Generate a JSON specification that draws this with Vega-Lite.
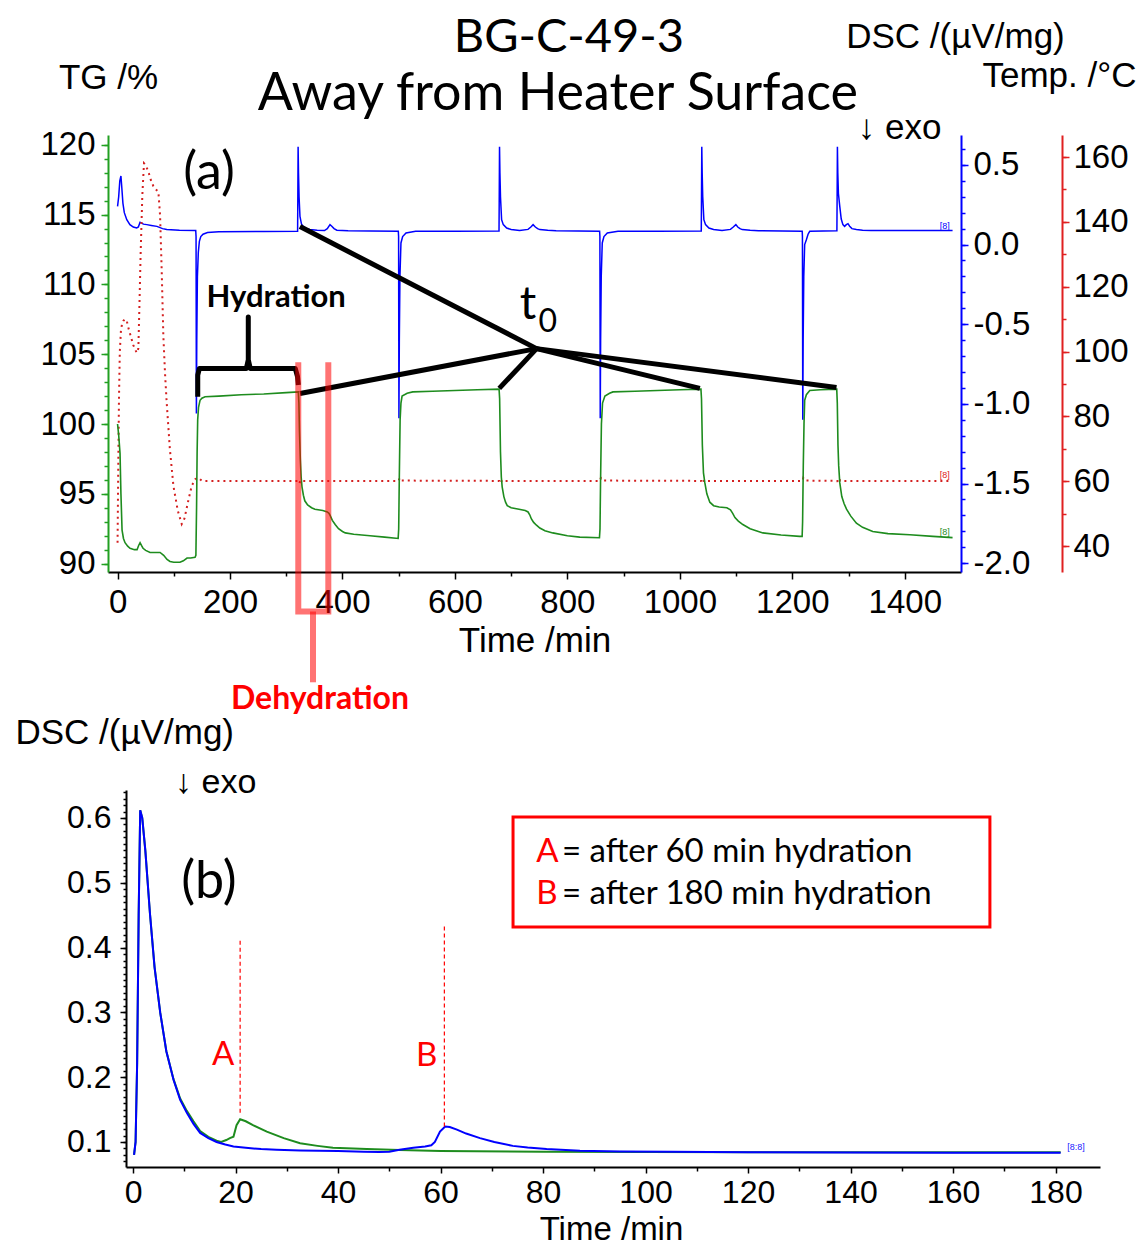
{
"$schema": "https://vega.github.io/schema/vega-lite/v6.json",
"background": "white",
"padding": {"left": 15, "top": 14, "right": 0, "bottom": 0},
"bounds": "flush",
"spacing": 218,
"config": {
  "view": {"stroke": null},
  "axis": {"grid": false, "labelFont": "Liberation Sans", "titleFont": "Liberation Sans", "labelFontSize": 32, "titleFontSize": 34, "labelColor": "#000", "titleColor": "#000", "titleFontWeight": "normal", "labelFlush": false, "labelOverlap": false, "domainWidth": 2, "tickWidth": 1.5}
},
"datasets": {
"tg": [
{"t":0,"v":100.0},{"t":2,"v":99.2},{"t":4.4,"v":97.9},{"t":6,"v":95},{"t":8,"v":92.4},{"t":10.5,"v":91.8},{"t":13.3,"v":91.5},{"t":18,"v":91.25},{"t":22.2,"v":91.1},{"t":30,"v":91.0},{"t":34.7,"v":91.0},{"t":37.5,"v":91.3},{"t":40,"v":91.5},{"t":42.5,"v":91.3},{"t":45.3,"v":91.1},{"t":50,"v":90.95},{"t":57.8,"v":90.8},{"t":66,"v":90.8},{"t":75.6,"v":90.8},{"t":82,"v":90.6},{"t":88,"v":90.3},{"t":93.3,"v":90.15},{"t":100,"v":90.1},{"t":111,"v":90.1},{"t":117,"v":90.2},{"t":123.6,"v":90.4},{"t":130,"v":90.4},{"t":137.8,"v":90.45},{"t":139.3,"v":90.6},{"t":140.5,"v":94},{"t":141.5,"v":98},{"t":142.5,"v":100.3},{"t":144,"v":101.2},{"t":146.7,"v":101.7},{"t":150,"v":101.85},{"t":155.6,"v":101.95},{"t":180,"v":102.0},{"t":220,"v":102.1},{"t":260,"v":102.15},{"t":300,"v":102.25},{"t":321.5,"v":102.3},{"t":322.5,"v":101.5},{"t":323.5,"v":99.5},{"t":325,"v":97.5},{"t":326.5,"v":96.2},{"t":328,"v":95.5},{"t":330.5,"v":94.9},{"t":333,"v":94.5},{"t":338,"v":94.2},{"t":345,"v":94.0},{"t":351,"v":93.9},{"t":365,"v":93.8},{"t":373,"v":93.7},{"t":376,"v":93.6},{"t":378,"v":93.45},{"t":382,"v":93.1},{"t":387,"v":92.8},{"t":393,"v":92.5},{"t":400,"v":92.3},{"t":405,"v":92.2},{"t":420,"v":92.1},{"t":449,"v":92.0},{"t":475,"v":91.9},{"t":499,"v":91.8},
{"t":500,"v":92.5},{"t":501,"v":96},{"t":502.5,"v":100.3},{"t":504,"v":101.5},{"t":506,"v":102.0},{"t":515,"v":102.2},{"t":525,"v":102.3},{"t":560,"v":102.35},{"t":600,"v":102.4},{"t":640,"v":102.45},{"t":678.5,"v":102.5},
{"t":679.5,"v":101.8},{"t":681,"v":98},{"t":682.5,"v":96.2},{"t":684,"v":95.5},{"t":687,"v":94.8},{"t":690,"v":94.4},{"t":693,"v":94.15},{"t":700,"v":94.0},{"t":714,"v":93.9},{"t":725,"v":93.8},{"t":730,"v":93.7},{"t":733,"v":93.5},{"t":736,"v":93.2},{"t":740,"v":92.95},{"t":745,"v":92.75},{"t":751,"v":92.55},{"t":760,"v":92.35},{"t":774,"v":92.2},{"t":800,"v":92.0},{"t":822,"v":91.9},{"t":857,"v":91.85},
{"t":858,"v":92.5},{"t":859,"v":96},{"t":860.5,"v":100},{"t":862.5,"v":101.5},{"t":866.7,"v":102.0},{"t":875,"v":102.2},{"t":881,"v":102.3},{"t":920,"v":102.35},{"t":960,"v":102.4},{"t":1000,"v":102.45},{"t":1037.5,"v":102.5},
{"t":1038.5,"v":101.8},{"t":1040,"v":98.5},{"t":1042,"v":96.5},{"t":1044.4,"v":95.8},{"t":1048,"v":95},{"t":1053.3,"v":94.4},{"t":1060,"v":94.15},{"t":1070,"v":94.05},{"t":1083.6,"v":94.0},{"t":1090,"v":93.85},{"t":1094,"v":93.6},{"t":1098,"v":93.3},{"t":1104,"v":93.05},{"t":1112,"v":92.8},{"t":1125,"v":92.5},{"t":1147.6,"v":92.2},{"t":1180,"v":92.05},{"t":1213,"v":91.95},{"t":1217.5,"v":91.95},
{"t":1218.3,"v":93},{"t":1219.5,"v":97},{"t":1220.8,"v":100},{"t":1222,"v":101.7},{"t":1225,"v":102.1},{"t":1231,"v":102.4},{"t":1250,"v":102.45},{"t":1279,"v":102.5},
{"t":1280,"v":101.5},{"t":1281.2,"v":98.5},{"t":1282.5,"v":97},{"t":1284.4,"v":95.8},{"t":1288,"v":94.8},{"t":1292,"v":94.3},{"t":1296.4,"v":93.9},{"t":1304,"v":93.4},{"t":1314,"v":92.9},{"t":1325,"v":92.6},{"t":1343,"v":92.3},{"t":1370,"v":92.15},{"t":1409,"v":92.07},{"t":1450,"v":91.95},{"t":1485,"v":91.86}
],
"dsc": [
{"t":0,"v":0.24},{"t":2,"v":0.3},{"t":4,"v":0.4},{"t":6,"v":0.43},{"t":7.5,"v":0.36},{"t":9.5,"v":0.26},{"t":12,"v":0.2},{"t":16.4,"v":0.156},{"t":22,"v":0.125},{"t":28,"v":0.11},{"t":34,"v":0.104},{"t":37,"v":0.11},{"t":40,"v":0.14},{"t":43,"v":0.135},{"t":46,"v":0.128},{"t":52,"v":0.125},{"t":60,"v":0.12},{"t":70,"v":0.114},{"t":80,"v":0.1},{"t":87.5,"v":0.094},{"t":110,"v":0.09},{"t":139,"v":0.088},
{"t":139.6,"v":0.05},{"t":140.2,"v":-1.06},{"t":140.9,"v":-0.6},{"t":142,"v":-0.2},{"t":143.6,"v":-0.05},{"t":145.5,"v":0.02},{"t":148,"v":0.05},{"t":152,"v":0.065},{"t":160,"v":0.075},{"t":180,"v":0.08},{"t":260,"v":0.082},{"t":320.2,"v":0.084},
{"t":320.6,"v":0.3},{"t":321.1,"v":0.614},{"t":321.8,"v":0.45},{"t":322.8,"v":0.3},{"t":324.4,"v":0.177},{"t":327,"v":0.13},{"t":330,"v":0.114},{"t":336,"v":0.1},{"t":342,"v":0.094},{"t":355,"v":0.09},{"t":368,"v":0.088},{"t":373,"v":0.1},{"t":377.8,"v":0.125},{"t":381,"v":0.115},{"t":385,"v":0.1},{"t":390,"v":0.09},{"t":410,"v":0.086},{"t":450,"v":0.085},{"t":499.3,"v":0.083},
{"t":499.8,"v":0.05},{"t":500.4,"v":-1.09},{"t":501.1,"v":-0.6},{"t":502.2,"v":-0.2},{"t":504,"v":0.01},{"t":507,"v":0.05},{"t":513,"v":0.073},{"t":530,"v":0.083},{"t":600,"v":0.084},{"t":678.4,"v":0.085},
{"t":678.8,"v":0.3},{"t":679.3,"v":0.614},{"t":680,"v":0.45},{"t":681,"v":0.3},{"t":683,"v":0.156},{"t":686,"v":0.125},{"t":692,"v":0.104},{"t":700,"v":0.094},{"t":715,"v":0.0875},{"t":730,"v":0.095},{"t":735,"v":0.11},{"t":739,"v":0.125},{"t":743,"v":0.11},{"t":747,"v":0.1},{"t":751,"v":0.094},{"t":765,"v":0.089},{"t":780,"v":0.087},{"t":857.3,"v":0.083},
{"t":857.8,"v":0.05},{"t":858.4,"v":-1.09},{"t":859.1,"v":-0.6},{"t":860.2,"v":-0.2},{"t":862,"v":0.01},{"t":865,"v":0.05},{"t":871,"v":0.073},{"t":890,"v":0.083},{"t":960,"v":0.084},{"t":1038.1,"v":0.085},
{"t":1038.5,"v":0.3},{"t":1039,"v":0.614},{"t":1039.7,"v":0.45},{"t":1040.7,"v":0.3},{"t":1042.7,"v":0.156},{"t":1045.7,"v":0.125},{"t":1051.7,"v":0.104},{"t":1060,"v":0.094},{"t":1075,"v":0.0875},{"t":1090,"v":0.095},{"t":1095,"v":0.11},{"t":1099.6,"v":0.125},{"t":1103,"v":0.11},{"t":1107,"v":0.1},{"t":1111,"v":0.094},{"t":1125,"v":0.089},{"t":1140,"v":0.087},{"t":1217.6,"v":0.083},
{"t":1218,"v":0.05},{"t":1218.6,"v":-1.1},{"t":1219.3,"v":-0.6},{"t":1220.4,"v":-0.2},{"t":1222,"v":0.0},{"t":1225,"v":0.03},{"t":1228,"v":0.065},{"t":1231,"v":0.083},{"t":1279.3,"v":0.087},
{"t":1279.7,"v":0.3},{"t":1280.2,"v":0.614},{"t":1280.9,"v":0.45},{"t":1282,"v":0.32},{"t":1284.4,"v":0.24},{"t":1287,"v":0.16},{"t":1290,"v":0.125},{"t":1293,"v":0.114},{"t":1296,"v":0.125},{"t":1299,"v":0.131},{"t":1302,"v":0.115},{"t":1306,"v":0.1},{"t":1314,"v":0.094},{"t":1325,"v":0.09},{"t":1340,"v":0.088},{"t":1400,"v":0.0875},{"t":1485,"v":0.0875}
],
"temp": [
{"t":0,"v":41},{"t":1,"v":60},{"t":2.5,"v":85},{"t":4,"v":100},{"t":6,"v":106.5},{"t":8,"v":108.5},{"t":10.4,"v":109.5},{"t":13.3,"v":110},{"t":16.3,"v":109.5},{"t":19,"v":107.5},{"t":22.2,"v":105.5},{"t":28,"v":102},{"t":34.1,"v":99.6},{"t":37,"v":101},{"t":39,"v":115},{"t":41,"v":130},{"t":44,"v":148},{"t":47,"v":158.1},{"t":50,"v":157.5},{"t":54.8,"v":155.5},{"t":59,"v":153},{"t":63.7,"v":151},{"t":68,"v":150},{"t":72.6,"v":149.3},{"t":75.6,"v":142},{"t":78.5,"v":125},{"t":81.4,"v":105},{"t":84.5,"v":93},{"t":87.4,"v":84.2},{"t":93,"v":70},{"t":99.3,"v":58.6},{"t":107,"v":51},{"t":114.1,"v":46.8},{"t":119,"v":48.5},{"t":125,"v":53.4},{"t":131.9,"v":58.6},{"t":138,"v":60.6},{"t":143.6,"v":61.1},{"t":150,"v":60.1},{"t":321,"v":60.1},{"t":323,"v":59.3},{"t":326,"v":60.4},{"t":330,"v":60.1},{"t":500,"v":60.1},{"t":501.5,"v":61.0},{"t":505,"v":60.2},{"t":679,"v":60.1},{"t":681,"v":59.3},{"t":684,"v":60.4},{"t":688,"v":60.1},{"t":858,"v":60.1},{"t":859.5,"v":61.0},{"t":863,"v":60.2},{"t":1038.5,"v":60.1},{"t":1040.5,"v":59.3},{"t":1043.5,"v":60.4},{"t":1048,"v":60.1},{"t":1218,"v":60.1},{"t":1219.5,"v":61.0},{"t":1223,"v":60.2},{"t":1280,"v":60.1},{"t":1282,"v":59.3},{"t":1285,"v":60.4},{"t":1290,"v":60.1},{"t":1484,"v":60.1}
],
"blk": [
{"s":"a","o":0,"t":745.2,"v":105.4},{"s":"a","o":1,"t":324.4,"v":114.14},
{"s":"b","o":0,"t":745.2,"v":105.4},{"s":"b","o":1,"t":324.4,"v":102.19},
{"s":"c","o":0,"t":745.2,"v":105.4},{"s":"c","o":1,"t":678.8,"v":102.55},
{"s":"d","o":0,"t":745.2,"v":105.4},{"s":"d","o":1,"t":1035.6,"v":102.55},
{"s":"e","o":0,"t":745.2,"v":105.4},{"s":"e","o":1,"t":1278.6,"v":102.62},
{"s":"h","o":0,"t":142.6,"v":101.95},{"s":"h","o":1,"t":142.6,"v":103.5},{"s":"h","o":2,"t":145.5,"v":103.98},{"s":"h","o":3,"t":229,"v":103.98},{"s":"h","o":4,"t":232.5,"v":104.6},{"s":"h","o":5,"t":232.5,"v":107.66},{"s":"h","o":6,"t":232.5,"v":104.6},{"s":"h","o":7,"t":236,"v":103.98},{"s":"h","o":8,"t":316,"v":103.98},{"s":"h","o":9,"t":320,"v":103.4},{"s":"h","o":10,"t":321.5,"v":102.8}
],
"redb": [
{"s":"r1","o":0,"t":321.4,"v":104.43},{"s":"r1","o":1,"t":321.4,"v":86.57},{"s":"r1","o":2,"t":374.8,"v":86.57},{"s":"r1","o":3,"t":374.8,"v":104.43},
{"s":"r2","o":0,"t":347.6,"v":86.57},{"s":"r2","o":1,"t":347.6,"v":81.5}
],
"bb": [
{"t":0.2,"v":0.08},{"t":0.5,"v":0.1},{"t":0.8,"v":0.22},{"t":1.1,"v":0.45},{"t":1.4,"v":0.612},{"t":1.8,"v":0.6},{"t":2.4,"v":0.55},{"t":3.3,"v":0.453},{"t":4.2,"v":0.37},{"t":5.3,"v":0.3},{"t":6.5,"v":0.24},{"t":7.9,"v":0.196},{"t":9.2,"v":0.165},{"t":10.5,"v":0.145},{"t":11.8,"v":0.128},{"t":13.1,"v":0.114},{"t":14.7,"v":0.106},{"t":16.3,"v":0.1},{"t":18,"v":0.096},{"t":19.6,"v":0.093},{"t":22,"v":0.091},{"t":25,"v":0.089},{"t":28,"v":0.088},{"t":32.6,"v":0.087},{"t":40,"v":0.086},{"t":45,"v":0.085},{"t":48,"v":0.0845},{"t":50,"v":0.085},{"t":52,"v":0.088},{"t":54.7,"v":0.091},{"t":57,"v":0.093},{"t":58.2,"v":0.095},{"t":58.9,"v":0.1},{"t":59.9,"v":0.116},{"t":60.9,"v":0.124},{"t":61.8,"v":0.123},{"t":63.2,"v":0.119},{"t":65,"v":0.113},{"t":67.7,"v":0.106},{"t":70.5,"v":0.1},{"t":74.1,"v":0.094},{"t":77,"v":0.0915},{"t":80.7,"v":0.089},{"t":87.2,"v":0.0866},{"t":95,"v":0.0855},{"t":105,"v":0.0848},{"t":120,"v":0.0842},{"t":140,"v":0.0838},{"t":160,"v":0.0835},{"t":181,"v":0.0835}
],
"bg": [
{"t":0.2,"v":0.08},{"t":0.5,"v":0.1},{"t":0.8,"v":0.22},{"t":1.1,"v":0.45},{"t":1.4,"v":0.612},{"t":1.8,"v":0.6},{"t":2.4,"v":0.55},{"t":3.3,"v":0.453},{"t":4.2,"v":0.37},{"t":5.3,"v":0.3},{"t":6.5,"v":0.24},{"t":7.9,"v":0.197},{"t":9.2,"v":0.167},{"t":10.5,"v":0.148},{"t":11.8,"v":0.132},{"t":13.1,"v":0.117},{"t":14.7,"v":0.108},{"t":16.3,"v":0.102},{"t":17.2,"v":0.1},{"t":18.2,"v":0.103},{"t":18.9,"v":0.106},{"t":19.6,"v":0.108},{"t":20.2,"v":0.126},{"t":20.9,"v":0.135},{"t":22,"v":0.132},{"t":23.4,"v":0.126},{"t":26.1,"v":0.116},{"t":29.4,"v":0.106},{"t":32.6,"v":0.098},{"t":36,"v":0.094},{"t":39,"v":0.091},{"t":45.6,"v":0.089},{"t":52,"v":0.0877},{"t":60,"v":0.086},{"t":80,"v":0.085},{"t":100,"v":0.0845},{"t":140,"v":0.084},{"t":181,"v":0.084}
]
},
"vconcat": [
{
 "width": 853, "height": 437,
 "layer": [
  {
   "encoding": {
     "x": {"field":"t","type":"quantitative","scale":{"domain":[-17,1500],"nice":false,"zero":false},"axis":null},
     "y": {"field":"v","type":"quantitative","scale":{"domain":[-2.055,0.6875],"nice":false,"zero":false},"axis":null}
   },
   "layer": [
    {"data":{"name":"dsc"},"mark":{"type":"line","strokeOpacity":0},
     "encoding":{"y":{"field":"v","type":"quantitative","scale":{"domain":[-2.055,0.6875],"nice":false,"zero":false},
       "axis":{"orient":"right","values":[-2.0,-1.9,-1.8,-1.7,-1.6,-1.5,-1.4,-1.3,-1.2,-1.1,-1.0,-0.9,-0.8,-0.7,-0.6,-0.5,-0.4,-0.3,-0.2,-0.1,0.0,0.1,0.2,0.3,0.4,0.5,0.6],"labels":false,"domain":false,"tickSize":4,"tickColor":"#0000ff","title":null}}}},
    {"data":{"name":"dsc"},"mark":{"type":"line","color":"#0000ff","strokeWidth":1.5},
     "encoding":{"y":{"field":"v","type":"quantitative","scale":{"domain":[-2.055,0.6875],"nice":false,"zero":false},
       "axis":{"orient":"right","values":[-2,-1.5,-1,-0.5,0,0.5],"labelExpr":"replace(format(datum.value, '.1f'), '\u2212', '-')","domainColor":"#0000ff","tickColor":"#0000ff","tickSize":7,"labelPadding":5,"labelFontSize":33,"title":"DSC /(µV/mg)","titleFontSize":35,"titleAngle":0,"titleAlign":"center","titleBaseline":"middle","titleX":-6,"titleY":-99}}}},
    {"data":{"values":[{"t":1471,"v":0.119,"label":"[8]"}]},"mark":{"type":"text","color":"#0000ff","fontSize":9,"font":"Liberation Sans"},"encoding":{"text":{"field":"label"}}}
   ],
   "resolve": {"axis": {"y": "independent"}}
  },
  {
   "encoding": {
     "x": {"field":"t","type":"quantitative","scale":{"domain":[-17,1500],"nice":false,"zero":false},"axis":null},
     "y": {"field":"v","type":"quantitative","scale":{"domain":[32,166.8],"nice":false,"zero":false},"axis":null}
   },
   "layer": [
    {"data":{"name":"temp"},"mark":{"type":"line","strokeOpacity":0},
     "encoding":{"y":{"field":"v","type":"quantitative","scale":{"domain":[32,166.8],"nice":false,"zero":false},
       "axis":{"orient":"right","offset":101,"values":[40,50,60,70,80,90,100,110,120,130,140,150,160],"labels":false,"domain":false,"tickSize":4,"tickColor":"#e02020","title":null}}}},
    {"data":{"name":"temp"},"mark":{"type":"line","color":"#d42020","strokeWidth":2,"strokeDash":[2,4]},
     "encoding":{"y":{"field":"v","type":"quantitative","scale":{"domain":[32,166.8],"nice":false,"zero":false},
       "axis":{"orient":"right","offset":101,"values":[40,60,80,100,120,140,160],"format":"d","domainColor":"#e02020","tickColor":"#e02020","tickSize":7,"labelPadding":4,"labelFontSize":33,"title":"Temp. /°C","titleFontSize":35,"titleAngle":0,"titleAlign":"center","titleBaseline":"middle","titleX":-3,"titleY":-60}}}},
    {"data":{"values":[{"t":1471,"v":61.8,"label":"[8]"}]},"mark":{"type":"text","color":"#e02020","fontSize":9,"font":"Liberation Sans"},"encoding":{"text":{"field":"label"}}}
   ],
   "resolve": {"axis": {"y": "independent"}}
  },
  {
   "encoding": {
     "x": {"field":"t","type":"quantitative","scale":{"domain":[-17,1500],"nice":false,"zero":false},"axis":null},
     "y": {"field":"v","type":"quantitative","scale":{"domain":[89.4,120.7],"nice":false,"zero":false},"axis":null}
   },
   "layer": [
    {"data":{"name":"tg"},"mark":{"type":"line","strokeOpacity":0},
     "encoding":{
       "x":{"field":"t","type":"quantitative","scale":{"domain":[-17,1500],"nice":false,"zero":false},
         "axis":{"orient":"bottom","values":[100,300,500,700,900,1100,1300],"labels":false,"domain":false,"tickSize":4,"tickColor":"#000","title":null}},
       "y":{"field":"v","type":"quantitative","scale":{"domain":[89.4,120.7],"nice":false,"zero":false},
         "axis":{"orient":"left","values":[90,91,92,93,94,95,96,97,98,99,100,101,102,103,104,105,106,107,108,109,110,111,112,113,114,115,116,117,118,119,120],"labels":false,"domain":false,"tickSize":4,"tickColor":"#22a022","title":null}}}},
    {"data":{"name":"tg"},"mark":{"type":"line","color":"#1e8c1e","strokeWidth":1.6},
     "encoding":{
       "x":{"field":"t","type":"quantitative","scale":{"domain":[-17,1500],"nice":false,"zero":false},
         "axis":{"orient":"bottom","values":[0,200,400,600,800,1000,1200,1400],"format":"d","domainColor":"#000","tickColor":"#000","tickSize":7,"labelPadding":7,"labelFontSize":33,"title":"Time /min","titleFontSize":35,"titleBaseline":"middle","titleY":68}},
       "y":{"field":"v","type":"quantitative","scale":{"domain":[89.4,120.7],"nice":false,"zero":false},
         "axis":{"orient":"left","values":[90,95,100,105,110,115,120],"format":"d","domainColor":"#22a022","tickColor":"#22a022","tickSize":7,"labelPadding":6,"labelFontSize":33,"title":"TG /%","titleFontSize":35,"titleAngle":0,"titleAlign":"center","titleBaseline":"middle","titleX":0,"titleY":-58}}}},
    {"data":{"name":"blk"},"mark":{"type":"line","color":"#000","strokeWidth":5,"strokeJoin":"round"},
     "encoding":{"detail":{"field":"s"},"order":{"field":"o","type":"quantitative"}}},
    {"data":{"name":"redb"},"mark":{"type":"line","color":"#ff0000","opacity":0.55,"strokeWidth":6},
     "encoding":{"detail":{"field":"s"},"order":{"field":"o","type":"quantitative"}}},
    {"data":{"values":[{"t":162.7,"v":118.0,"label":"(a)"}]},"mark":{"type":"text","font":"Lato","fontSize":52,"color":"#000"},"encoding":{"text":{"field":"label"}}},
    {"data":{"values":[{"t":282,"v":109.0,"label":"Hydration"}]},"mark":{"type":"text","font":"Lato","fontSize":31,"fontWeight":"bold","color":"#000"},"encoding":{"text":{"field":"label"}}},
    {"data":{"values":[{"t":729.8,"v":108.5,"label":"t"}]},"mark":{"type":"text","font":"Lato","fontSize":46,"color":"#000"},"encoding":{"text":{"field":"label"}}},
    {"data":{"values":[{"t":765.3,"v":107.32,"label":"0"}]},"mark":{"type":"text","font":"Lato","fontSize":32,"color":"#000"},"encoding":{"text":{"field":"label"}}},
    {"data":{"values":[{"t":802.7,"v":127.64,"label":"BG-C-49-3"}]},"mark":{"type":"text","font":"Lato","fontSize":47,"color":"#000"},"encoding":{"text":{"field":"label"}}},
    {"data":{"values":[{"t":783.1,"v":123.64,"label":"Away from Heater Surface"}]},"mark":{"type":"text","font":"Lato","fontSize":52,"color":"#000"},"encoding":{"text":{"field":"label"}}},
    {"data":{"values":[{"t":1316.4,"v":121.2,"label":"↓ exo"}]},"mark":{"type":"text","font":"Liberation Sans","fontSize":35,"align":"left","color":"#000"},"encoding":{"text":{"field":"label"}}},
    {"data":{"values":[{"t":360,"v":80.29,"label":"Dehydration"}]},"mark":{"type":"text","font":"Lato","fontSize":32,"fontWeight":"bold","color":"#ff0000"},"encoding":{"text":{"field":"label"}}},
    {"data":{"values":[{"t":1471,"v":92.3,"label":"[8]"}]},"mark":{"type":"text","color":"#1e8c1e","fontSize":9,"font":"Liberation Sans"},"encoding":{"text":{"field":"label"}}}
   ],
   "resolve": {"axis": {"x": "independent", "y": "independent"}}
  }
 ],
 "resolve": {"scale": {"y": "independent"}, "axis": {"x": "independent", "y": "independent"}}
},
{
 "width": 992, "height": 377,
 "encoding": {
   "x": {"field":"t","type":"quantitative","scale":{"domain":[-1.37,188.68],"range":[18,992],"nice":false,"zero":false},"axis":null},
   "y": {"field":"v","type":"quantitative","scale":{"domain":[0.0614,0.6432],"nice":false,"zero":false},"axis":null}
 },
 "layer": [
  {"data":{"name":"bg"},"mark":{"type":"line","strokeOpacity":0},
   "encoding":{
     "x":{"field":"t","type":"quantitative","scale":{"domain":[-1.37,188.68],"range":[18,992],"nice":false,"zero":false},
       "axis":{"orient":"bottom","values":[10,30,50,70,90,110,130,150,170],"labels":false,"domain":false,"tickSize":4,"tickColor":"#000","title":null}},
     "y":{"field":"v","type":"quantitative","scale":{"domain":[0.0614,0.6432],"nice":false,"zero":false},
       "axis":{"orient":"left","offset":-18,"values":[0.07,0.08,0.09,0.1,0.11,0.12,0.13,0.14,0.15,0.16,0.17,0.18,0.19,0.2,0.21,0.22,0.23,0.24,0.25,0.26,0.27,0.28,0.29,0.3,0.31,0.32,0.33,0.34,0.35,0.36,0.37,0.38,0.39,0.4,0.41,0.42,0.43,0.44,0.45,0.46,0.47,0.48,0.49,0.5,0.51,0.52,0.53,0.54,0.55,0.56,0.57,0.58,0.59,0.6,0.61,0.62,0.63,0.64],"labels":false,"domain":false,"tickSize":3,"tickColor":"#000","title":null}}}},
  {"data":{"name":"bg"},"mark":{"type":"line","color":"#1e8c1e","strokeWidth":2},
   "encoding":{
     "x":{"field":"t","type":"quantitative","scale":{"domain":[-1.37,188.68],"range":[18,992],"nice":false,"zero":false},
       "axis":{"orient":"bottom","values":[0,20,40,60,80,100,120,140,160,180],"format":"d","domainColor":"#000","tickColor":"#000","tickSize":6,"labelPadding":4,"title":"Time /min","titleFontSize":33,"titleBaseline":"middle","titleX":503,"titleY":62}},
     "y":{"field":"v","type":"quantitative","scale":{"domain":[0.0614,0.6432],"nice":false,"zero":false},
       "axis":{"orient":"left","offset":-18,"values":[0.1,0.2,0.3,0.4,0.5,0.6],"format":".1f","domainColor":"#000","tickColor":"#000","tickSize":6,"labelPadding":9,"title":"DSC /(µV/mg)","titleFontSize":35,"titleAngle":0,"titleAlign":"left","titleBaseline":"middle","titleX":-111,"titleY":-58}}}},
  {"data":{"name":"bb"},"mark":{"type":"line","color":"#0000ff","strokeWidth":2}},
  {"data":{"values":[{"t":20.9,"v":0.145,"v2":0.415},{"t":60.75,"v":0.124,"v2":0.435}]},"mark":{"type":"rule","color":"#ff0000","strokeWidth":1.2,"strokeDash":[4,3]},
   "encoding":{"y2":{"field":"v2"}}},
  {"data":{"values":[{"t":74.15,"t2":167.2,"v":0.6015,"v2":0.4318}]},"mark":{"type":"rect","fillOpacity":0,"stroke":"#ff0000","strokeWidth":3},
   "encoding":{"x2":{"field":"t2"},"y2":{"field":"v2"}}},
  {"data":{"values":[{"t":14.8,"v":0.501,"label":"(b)"}]},"mark":{"type":"text","font":"Lato","fontSize":52,"color":"#000"},"encoding":{"text":{"field":"label"}}},
  {"data":{"values":[{"t":17.6,"v":0.234,"label":"A"},{"t":57.3,"v":0.233,"label":"B"}]},"mark":{"type":"text","font":"Lato","fontSize":33,"color":"#ff0000"},"encoding":{"text":{"field":"label"}}},
  {"data":{"values":[{"t":78.7,"v":0.548,"label":"A"},{"t":78.7,"v":0.483,"label":"B"}]},"mark":{"type":"text","font":"Lato","fontSize":33,"align":"left","color":"#ff0000"},"encoding":{"text":{"field":"label"}}},
  {"data":{"values":[{"t":83.7,"v":0.548,"label":"= after 60 min hydration"},{"t":83.7,"v":0.483,"label":"= after 180 min hydration"}]},"mark":{"type":"text","font":"Lato","fontSize":33,"align":"left","color":"#000"},"encoding":{"text":{"field":"label"}}},
  {"data":{"values":[{"t":8.2,"v":0.654,"label":"↓ exo"}]},"mark":{"type":"text","font":"Liberation Sans","fontSize":34,"align":"left","color":"#000"},"encoding":{"text":{"field":"label"}}},
  {"data":{"values":[{"t":184,"v":0.092,"label":"[8:8]"}]},"mark":{"type":"text","font":"Liberation Sans","fontSize":9,"color":"#1a1aff"},"encoding":{"text":{"field":"label"}}}
 ],
 "resolve": {"axis": {"x": "independent", "y": "independent"}}
}
]
}
